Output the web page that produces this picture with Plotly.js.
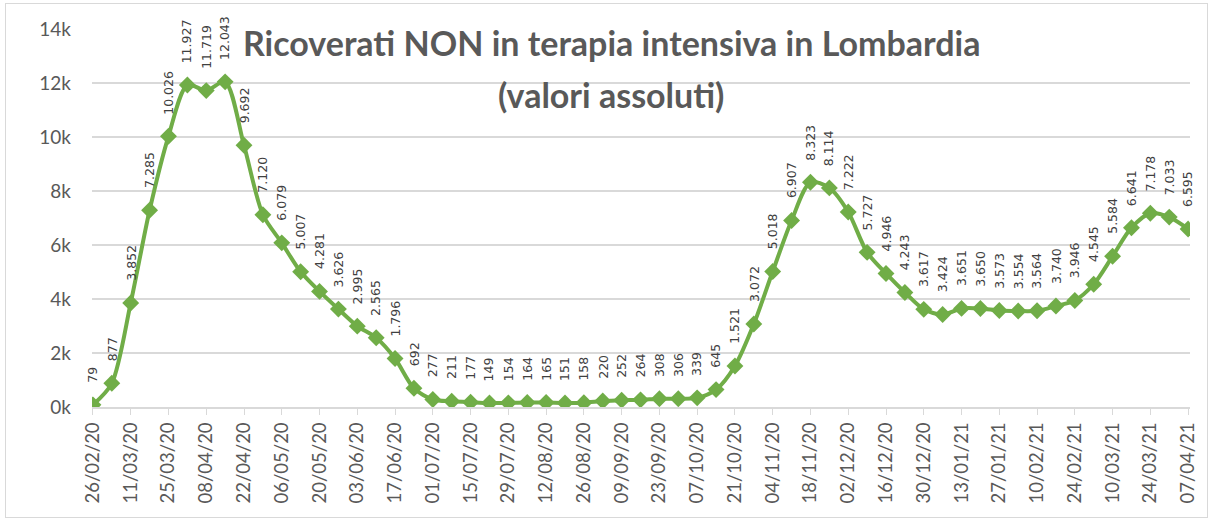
<!DOCTYPE html>
<html>
<head>
<meta charset="utf-8">
<script src="https://cdn.plot.ly/plotly-3.0.1.min.js"></script>
<style>
html,body{margin:0;padding:0;background:#fff;}
#wrap{position:relative;width:1211px;height:519px;}
#chart{width:1211px;height:519px;}
#frame{position:absolute;left:5px;top:3px;width:1201px;height:513px;border:1px solid #d9d9d9;pointer-events:none;}
</style>
</head>
<body>
<div id="wrap"><div id="chart"></div><div id="frame"></div></div>
<script>
// Ricoverati NON in terapia intensiva in Lombardia, weekly values 26/02/20 .. 07/04/21
const values = [79, 877, 3852, 7285, 10026, 11927, 11719, 12043, 9692, 7120,
  6079, 5007, 4281, 3626, 2995, 2565, 1796, 692, 277, 211,
  177, 149, 154, 164, 165, 151, 158, 220, 252, 264,
  308, 306, 339, 645, 1521, 3072, 5018, 6907, 8323, 8114,
  7222, 5727, 4946, 4243, 3617, 3424, 3651, 3650, 3573, 3554,
  3564, 3740, 3946, 4545, 5584, 6641, 7178, 7033, 6595];

// tick labels every two weeks
const tickLabels = ["26/02/20","11/03/20","25/03/20","08/04/20","22/04/20","06/05/20",
  "20/05/20","03/06/20","17/06/20","01/07/20","15/07/20","29/07/20","12/08/20",
  "26/08/20","09/09/20","23/09/20","07/10/20","21/10/20","04/11/20","18/11/20",
  "02/12/20","16/12/20","30/12/20","13/01/21","27/01/21","10/02/21","24/02/21",
  "10/03/21","24/03/21","07/04/21"];

const yTicks = [0, 2000, 4000, 6000, 8000, 10000, 12000, 14000];
const yTickLabels = ["0k","2k","4k","6k","8k","10k","12k","14k"];

const titleLines = ["Ricoverati NON in terapia intensiva in Lombardia", "(valori assoluti)"];

function fmt(v){ return String(v).replace(/\B(?=(\d{3})+(?!\d))/g, "."); }

const xs = values.map((v,i)=>i);
const tickVals = tickLabels.map((t,i)=>i*2);

const green = "#70AD47";
const trace = {
  x: xs, y: values, type: "scatter", mode: "lines+markers",
  line: {color: green, width: 4, shape: "spline", smoothing: 0.8},
  marker: {symbol: "diamond", size: 13, color: green},
  hoverinfo: "skip"
};

const annotations = values.map((v,i)=>({
  x: i, y: v, xref: "x", yref: "y",
  text: fmt(v), showarrow: false, textangle: -90,
  xanchor: "center", yanchor: "bottom", yshift: 20,
  font: {family: "DejaVu Sans", size: 12.5, color: "#404040"}
}));
const titleY = [1.024, 0.885];
titleLines.forEach((t, k) => annotations.push({
  xref: "paper", yref: "paper", x: 0.473, y: titleY[k], xanchor: "center", yanchor: "top",
  text: "<b>" + t + "</b>", showarrow: false,
  font: {family: "Lato", size: 34, color: "#595959"}, align: "center"
}));

const layout = {
  width: 1211, height: 519,
  margin: {l: 92, r: 21, t: 29, b: 112},
  paper_bgcolor: "#fff", plot_bgcolor: "#fff",
  showlegend: false,
  xaxis: {
    range: [-0.05, 58.1], tickmode: "array", tickvals: tickVals, ticktext: tickLabels,
    tickangle: -90, ticks: "outside", ticklen: 6, tickcolor: "#d9d9d9",
    showline: true, linecolor: "#d9d9d9", linewidth: 2, showgrid: false, zeroline: false,
    tickfont: {family: "Lato", size: 18.5, color: "#595959"}
  },
  yaxis: {
    range: [0, 14000], tickmode: "array", tickvals: yTicks, ticktext: yTickLabels,
    showgrid: true, gridcolor: "#d9d9d9", gridwidth: 2, zeroline: false, showline: false,
    ticks: "", ticklabelstandoff: 20,
    tickfont: {family: "Lato", size: 19, color: "#595959"}
  },
  annotations: annotations
};

Plotly.newPlot("chart", [trace], layout, {displayModeBar: false, staticPlot: true});
</script>
</body>
</html>
